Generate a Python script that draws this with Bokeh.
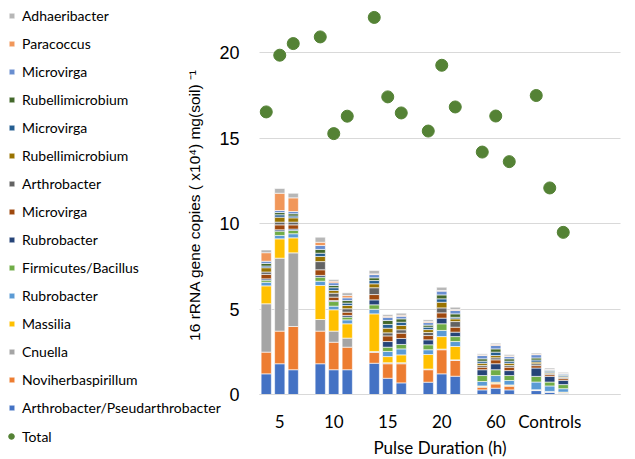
from bokeh.plotting import figure
from bokeh.models import (ColumnDataSource, Range1d, FixedTicker, Legend, LegendItem)
from bokeh.embed import file_html
from bokeh.resources import INLINE

# ---------------- data ----------------
groups = ["5", "10", "15", "20", "60", "Controls"]
reps_per_group = 3
y_ticks = [0, 5, 10, 15, 20]

arthro_pseudo = [1.21, 1.80, 1.45, 1.80, 1.45, 1.45, 1.83, 0.95, 0.68, 0.72, 1.21, 1.07, 0.27, 0.37, 0.27, 0.23, 0.14, 0.08]
noviherba = [1.27, 1.91, 2.53, 1.91, 1.61, 1.32, 0.63, 0.85, 1.12, 0.73, 1.41, 0.92, 0.16, 0.25, 0.22, 0.02, 0.01, 0.01]
cnuella = [2.83, 4.27, 4.31, 0.68, 0.65, 0.53, 0.06, 0.06, 0.06, 0.04, 0.04, 0.04, 0.03, 0.03, 0.03, 0.01, 0.01, 0.01]
massilia = [1.05, 1.13, 0.88, 1.99, 1.25, 0.84, 2.20, 0.36, 0.46, 0.85, 0.73, 0.78, 0.04, 0.07, 0.04, 0.02, 0.02, 0.04]
rubrobacter_a = [0.21, 0.20, 0.24, 0.25, 0.21, 0.23, 0.27, 0.30, 0.35, 0.28, 0.36, 0.29, 0.26, 0.39, 0.26, 0.45, 0.32, 0.20]
firmicutes = [0.12, 0.25, 0.19, 0.24, 0.27, 0.16, 0.26, 0.25, 0.26, 0.29, 0.39, 0.29, 0.35, 0.34, 0.29, 0.33, 0.23, 0.24]
rubrobacter_b = [0.08, 0.08, 0.08, 0.10, 0.06, 0.10, 0.29, 0.33, 0.35, 0.29, 0.33, 0.26, 0.34, 0.35, 0.29, 0.49, 0.33, 0.25]
microvirga_a = [0.26, 0.29, 0.25, 0.33, 0.20, 0.19, 0.31, 0.33, 0.31, 0.25, 0.31, 0.29, 0.15, 0.23, 0.20, 0.14, 0.10, 0.10]
arthrobacter = [0.14, 0.16, 0.16, 0.48, 0.23, 0.20, 0.40, 0.18, 0.20, 0.18, 0.29, 0.33, 0.10, 0.12, 0.10, 0.11, 0.06, 0.06]
rubelli_a = [0.25, 0.29, 0.25, 0.30, 0.16, 0.19, 0.23, 0.27, 0.25, 0.17, 0.33, 0.16, 0.13, 0.13, 0.13, 0.10, 0.06, 0.05]
microvirga_b = [0.10, 0.14, 0.11, 0.19, 0.16, 0.14, 0.19, 0.22, 0.19, 0.14, 0.20, 0.09, 0.12, 0.20, 0.12, 0.12, 0.08, 0.08]
rubelli_b = [0.15, 0.13, 0.13, 0.22, 0.13, 0.15, 0.16, 0.23, 0.20, 0.12, 0.23, 0.20, 0.14, 0.19, 0.14, 0.12, 0.05, 0.04]
microvirga_c = [0.13, 0.12, 0.13, 0.23, 0.16, 0.16, 0.19, 0.19, 0.15, 0.15, 0.22, 0.20, 0.19, 0.20, 0.13, 0.19, 0.05, 0.06]
paracoccus = [0.50, 1.01, 0.80, 0.19, 0.09, 0.13, 0.04, 0.06, 0.06, 0.06, 0.04, 0.05, 0.04, 0.06, 0.04, 0.04, 0.02, 0.02]
adhaeribacter = [0.16, 0.28, 0.27, 0.30, 0.10, 0.16, 0.20, 0.10, 0.12, 0.10, 0.19, 0.14, 0.06, 0.07, 0.08, 0.06, 0.07, 0.06]

total = [16.54, 19.86, 20.54, 20.93, 15.27, 16.29, 22.07, 17.42, 16.48, 15.42, 19.27, 16.83, 14.19, 16.30, 13.63, 17.50, 12.09, 9.49]

# stack order bottom -> top
series_names = ["Arthrobacter/Pseudarthrobacter", "Noviherbaspirillum", "Cnuella", "Massilia",
                "Rubrobacter", "Firmicutes/Bacillus", "Rubrobacter", "Microvirga", "Arthrobacter",
                "Rubellimicrobium", "Microvirga", "Rubellimicrobium", "Microvirga", "Paracoccus",
                "Adhaeribacter"]
series_values = [arthro_pseudo, noviherba, cnuella, massilia, rubrobacter_a, firmicutes, rubrobacter_b,
                 microvirga_a, arthrobacter, rubelli_a, microvirga_b, rubelli_b, microvirga_c,
                 paracoccus, adhaeribacter]
series_colors = ["#4472C4", "#ED7D31", "#A5A5A5", "#FFC000", "#5B9BD5", "#70AD47", "#264478",
                 "#9E480E", "#636363", "#997300", "#255E91", "#43682B", "#698ED0", "#F1975A",
                 "#B7B7B7"]
total_color = "#548235"

# ---------------- build ----------------
slot = reps_per_group + 1
xpos = [g * slot + j for g in range(len(groups)) for j in range(reps_per_group)]
keys = ["s%d" % i for i in range(len(series_values))]
data = {"x": xpos, "total": total}
for k, v in zip(keys, series_values):
    data[k] = v
source = ColumnDataSource(data)

# geometry: the frame covers the whole figure; the plot area proper starts at pixel 259 (x)
# and has its zero line at pixel 394 (y)
W, H = 635, 459
PX_X = 13.5
PX_Y = (394 - 52.3) / 20
AX0, AX1 = -0.5, -0.5 + (620 - 259) / PX_X
xs = AX0 - 259 / PX_X
xe = xs + W / PX_X
ye = 394 / PX_Y
ys = -(H - 394) / PX_Y

p = figure(width=W, height=H, output_backend="svg", toolbar_location=None,
           x_range=Range1d(xs, xe), y_range=Range1d(ys, ye),
           min_border_left=0, min_border_right=0, min_border_top=0, min_border_bottom=0)
p.outline_line_color = None
p.background_fill_color = "white"

# horizontal gridlines limited to the plot area
p.xgrid.grid_line_color = None
grid_done = False
try:
    p.ygrid.cross_bounds = (AX0, AX1)
    p.ygrid.grid_line_color = "#D9D9D9"
    p.ygrid.grid_line_width = 1
    p.ygrid.ticker = FixedTicker(ticks=y_ticks)
    grid_done = True
except Exception:
    grid_done = False
if not grid_done:
    p.ygrid.grid_line_color = None
    gsrc = ColumnDataSource(dict(y=y_ticks, x0=[AX0] * len(y_ticks), x1=[AX1] * len(y_ticks)))
    p.segment(x0="x0", x1="x1", y0="y", y1="y", line_color="#D9D9D9", line_width=1, source=gsrc)

bars = p.vbar_stack(keys, x="x", width=0.76, color=series_colors, line_color="white",
                    line_width=0.6, source=source)
dots = p.scatter("x", "total", size=12, color=total_color, source=source)

# axes
yax = p.yaxis[0]
yax.fixed_location = AX0
yax.bounds = (0, 22.2)
yax.ticker = FixedTicker(ticks=y_ticks)
yax.axis_line_color = None
yax.major_tick_line_color = None
yax.minor_tick_line_color = None
yax.major_tick_out = 0
yax.major_tick_in = 0
yax.major_label_standoff = 20
yax.major_label_text_font = "Liberation Sans"
yax.major_label_text_font_size = "18px"
yax.major_label_text_color = "#000000"
yax.axis_label = "16 rRNA gene copies ( x10\u2074) mg(soil) \u207b\u00b9"
yax.axis_label_text_font = "Liberation Sans"
yax.axis_label_text_font_size = "15.5px"
yax.axis_label_text_font_style = "normal"
yax.axis_label_text_color = "#000000"
yax.axis_label_standoff = 13

centers = [g * slot + (reps_per_group - 1) / 2 for g in range(len(groups))]
xax = p.xaxis[0]
xax.fixed_location = 0
xax.bounds = (AX0, AX1)
xax.ticker = FixedTicker(ticks=centers)
xax.major_label_overrides = {c: g for c, g in zip(centers, groups)}
xax.axis_line_color = "#D9D9D9"
xax.axis_line_width = 1
xax.major_tick_line_color = None
xax.minor_tick_line_color = None
xax.major_tick_out = 0
xax.major_tick_in = 0
xax.major_label_standoff = 16
xax.major_label_text_font = "Lato"
xax.major_label_text_font_size = "17px"
xax.major_label_text_color = "#000000"
xax.axis_label = "Pulse Duration (h)"
xax.axis_label_text_font = "Lato"
xax.axis_label_text_font_size = "17px"
xax.axis_label_text_font_style = "normal"
xax.axis_label_text_color = "#000000"
xax.axis_label_standoff = 2

# legends
items = [LegendItem(label=n, renderers=[r]) for n, r in zip(series_names, bars)]
items = items[::-1]
leg = Legend(items=items, location=(8, 43), orientation="vertical",
             glyph_width=7, glyph_height=7, label_height=17, spacing=11, padding=0, margin=0,
             label_standoff=7, label_text_font="Lato", label_text_font_size="14px",
             label_text_color="#000000", border_line_color=None, background_fill_alpha=0)
p.add_layout(leg)
leg2 = Legend(items=[LegendItem(label="Total", renderers=[dots])], location=(4, 14.5),
              glyph_width=14, glyph_height=14, label_height=17, spacing=0, padding=0, margin=0,
              label_standoff=4, label_text_font="Lato", label_text_font_size="14px",
              label_text_color="#000000", border_line_color=None, background_fill_alpha=0)
p.add_layout(leg2)

open("out.html", "w").write(file_html(p, INLINE))
